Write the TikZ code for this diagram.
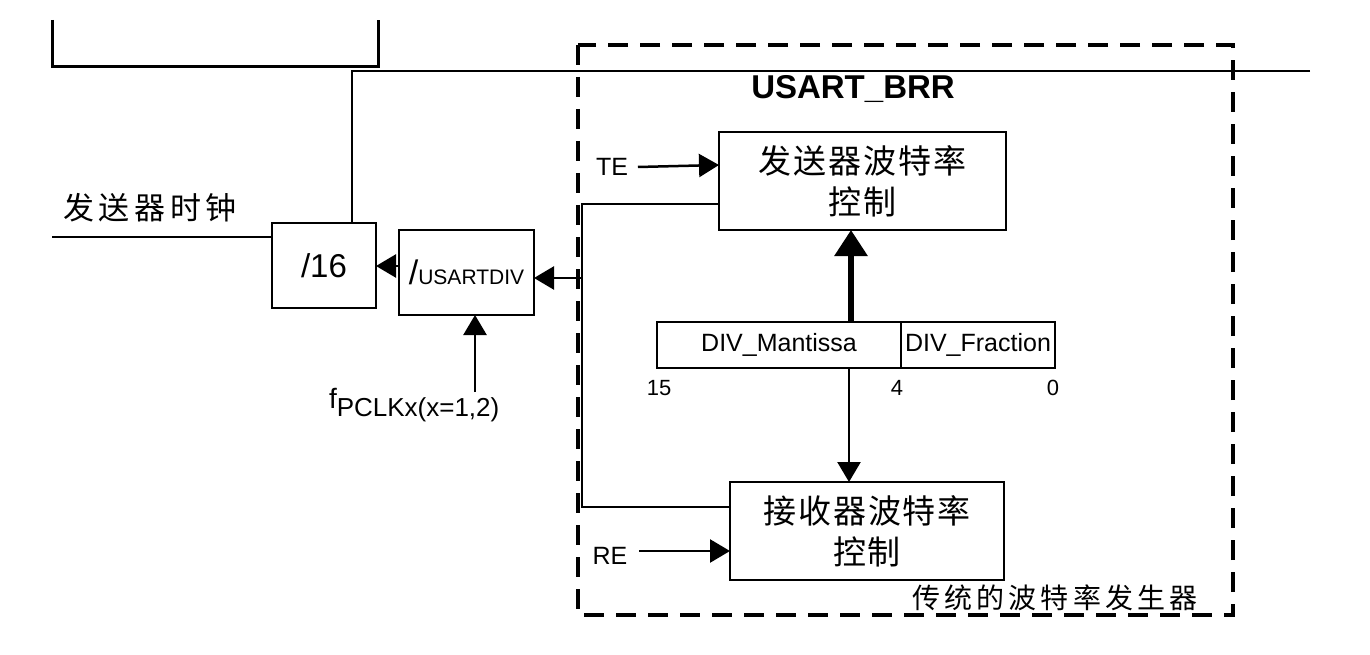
\documentclass[tikz,border=0pt]{standalone}
\usepackage{fontspec}
\setmainfont{Liberation Sans}
\newfontfamily\cjk{Noto Sans CJK SC}
\usetikzlibrary{arrows.meta}
\begin{document}
\begin{tikzpicture}[x=1pt,y=-1pt,
  box/.style={draw, line width=2.8pt, inner sep=0pt, outer sep=0pt, anchor=north west, align=center},
  lbl/.style={inner sep=0pt, outer sep=0pt},
  wire/.style={line width=2.5pt},
  arr/.style={line width=2.5pt, -{Triangle[length=20pt,width=23pt]}},
  bigarr/.style={line width=6pt, -{Triangle[length=26pt,width=32pt]}},
  lat/.style={font=\fontsize{25}{30}\selectfont},
  num/.style={font=\fontsize{22}{26}\selectfont},
  boxcjk/.style={font=\cjk\addfontfeature{LetterSpace=6}\fontsize{33}{41}\selectfont}
]
\useasboundingbox (0,0) rectangle (1370,655);

% partial box at top left
\draw[line width=3pt] (52,20) -- (52,67) -- (378,67) -- (378,20);

% dashed frame
\draw[line width=3.5pt, dash pattern=on 20pt off 12pt] (578,45) rectangle (1233,615);

% nodes
\node[box, minimum width=104, minimum height=85, font=\fontsize{33}{40}\selectfont] (d16) at (272,223) {/16};
\node[box, minimum width=135, minimum height=85] (div) at (399,230)
  {{\fontsize{34}{34}\selectfont/}{\fontsize{21}{21}\selectfont USARTDIV}};
\node[box, minimum width=287, minimum height=98, boxcjk] (tx) at (719,132) {发送器波特率\\控制};
\node[box, minimum width=274, minimum height=98, boxcjk] (rx) at (730,482) {接收器波特率\\控制};
\node[box, minimum width=244, minimum height=46, lat] (reg1) at (657,322) {DIV\_Mantissa};
\node[box, minimum width=154, minimum height=46, lat] (reg2) at (901,322) {DIV\_Fraction};

% labels
\node[lbl, font=\cjk\addfontfeature{LetterSpace=15}\fontsize{31}{36}\selectfont] (clk) at (150,208) {发送器时钟};
\node[lbl, font=\bfseries\fontsize{33}{40}\selectfont] (brr) at (853,89) {USART\_BRR};
\node[lbl, lat] (te) at (612,167) {TE};
\node[lbl, lat] (re) at (610,556) {RE};
\node[lbl, num] (n15) at (659,388) {15};
\node[lbl, num] (n4) at (897,388) {4};
\node[lbl, num] (n0) at (1053,388) {0};
\node[lbl, font=\cjk\addfontfeature{LetterSpace=15}\fontsize{28}{32}\selectfont] (gen) at (1055,598) {传统的波特率发生器};
\node[lbl, anchor=base west] (fclk) at (329,408)
  {{\fontsize{28}{30}\selectfont f}\raisebox{-8pt}{\fontsize{26}{30}\selectfont PCLKx(x=1,2)}};

% coordinates
\coordinate (bus) at (352,71);
\coordinate (busend) at (1310,71);
\coordinate (clkin) at (52,237);
\coordinate (j1) at (582,204);
\coordinate (j2) at (582,507);
\coordinate (j3) at (582,278);
\coordinate (fin) at (475,392);
\coordinate (m1) at (851,322);
\coordinate (m2) at (849,369);

% connectors
\draw[wire] (busend) -- (bus) -- (bus |- d16.north);
\draw[wire] (clkin) -- (clkin -| d16.west);
\draw[arr] (div.west |- 0,266) -- (d16.east |- 0,266);
\draw[arr] (j3) -- (j3 -| div.east);
\draw[arr] (fin) -- (fin |- div.south);
\draw[wire] (tx.west |- j1) -- (j1) -- (j2) -- (j2 -| rx.west);
\draw[arr] ([xshift=10pt]te.east) -- (tx.west |- 0,165);
\draw[arr] ([xshift=12pt]re.east |- 0,551) -- (rx.west |- 0,551);
\draw[bigarr] (m1) -- (m1 |- tx.south);
\draw[arr] (m2) -- (m2 |- rx.north);
\end{tikzpicture}
\end{document}
